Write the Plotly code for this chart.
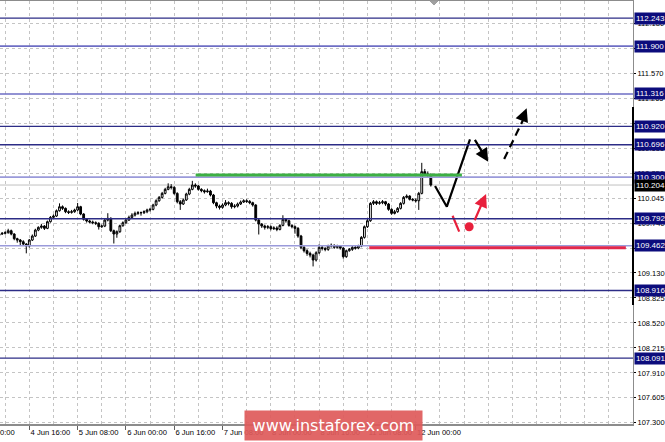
import plotly.graph_objects as go

# ---------------- data (H1 bars; x = bar index, 0 = 4 Jun 00:00) ----------------
bar_index = list(range(6, 150))
close = [109.606, 109.614, 109.622, 109.646, 109.606, 109.549, 109.532, 109.512, 109.483, 109.459,
         109.532, 109.581, 109.654, 109.687, 109.703, 109.675, 109.756, 109.809, 109.825, 109.890,
         109.939, 109.919, 109.878, 109.870, 109.878, 109.899, 109.939, 109.850, 109.785, 109.764,
         109.752, 109.744, 109.736, 109.695, 109.703, 109.776, 109.797, 109.646, 109.606, 109.634,
         109.707, 109.744, 109.776, 109.809, 109.837, 109.858, 109.866, 109.866, 109.878, 109.899,
         109.907, 109.960, 110.012, 110.053, 110.102, 110.151, 110.183, 110.175, 110.102, 110.000,
         109.972, 110.021, 110.094, 110.151, 110.204, 110.192, 110.151, 110.135, 110.122, 110.130,
         110.082, 109.988, 109.947, 109.931, 109.960, 109.988, 109.980, 109.939, 109.947, 109.972,
         109.996, 110.012, 110.004, 109.988, 109.960, 109.776, 109.727, 109.703, 109.687, 109.695,
         109.671, 109.679, 109.662, 109.711, 109.785, 109.768, 109.711, 109.695, 109.675, 109.581,
         109.443, 109.402, 109.369, 109.349, 109.288, 109.377, 109.443, 109.430, 109.418, 109.459,
         109.467, 109.443, 109.459, 109.434, 109.329, 109.402, 109.418, 109.443, 109.434, 109.459,
         109.565, 109.695, 109.768, 109.980, 110.000, 109.980, 109.988, 110.000, 109.972, 109.907,
         109.858, 109.878, 109.919, 109.980, 110.053, 110.069, 110.029, 110.021, 110.012, 110.102,
         110.367, 110.338, 110.325, 110.204]
open_ = [109.590] + close[:-1]
high = [109.625, 109.630, 109.640, 109.670, 109.660, 109.615, 109.560, 109.545, 109.530, 109.495,
        109.545, 109.600, 109.670, 109.700, 109.730, 109.715, 109.770, 109.825, 109.845, 109.905,
        109.980, 109.955, 109.930, 109.895, 109.900, 109.915, 109.985, 109.950, 109.860, 109.800,
        109.780, 109.770, 109.760, 109.750, 109.720, 109.790, 109.860, 109.810, 109.660, 109.650,
        109.720, 109.760, 109.795, 109.830, 109.860, 109.880, 109.885, 109.880, 109.895, 109.915,
        109.925, 109.975, 110.030, 110.070, 110.120, 110.170, 110.225, 110.215, 110.190, 110.115,
        110.020, 110.040, 110.110, 110.170, 110.255, 110.225, 110.205, 110.165, 110.150, 110.160,
        110.145, 110.095, 110.000, 109.965, 109.980, 110.020, 110.005, 109.995, 109.970, 109.990,
        110.015, 110.030, 110.030, 110.020, 110.000, 109.970, 109.790, 109.740, 109.720, 109.715,
        109.710, 109.700, 109.700, 109.725, 109.835, 109.800, 109.780, 109.725, 109.710, 109.690,
        109.595, 109.460, 109.420, 109.390, 109.365, 109.395, 109.480, 109.465, 109.445, 109.475,
        109.490, 109.480, 109.475, 109.470, 109.445, 109.415, 109.435, 109.460, 109.465, 109.475,
        109.580, 109.710, 109.790, 109.995, 110.020, 110.015, 110.010, 110.020, 110.010, 109.985,
        109.920, 109.900, 109.935, 109.995, 110.070, 110.090, 110.080, 110.045, 110.040, 110.120,
        110.475, 110.400, 110.370, 110.345]
low = [109.575, 109.595, 109.600, 109.610, 109.590, 109.530, 109.500, 109.470, 109.460, 109.370,
       109.440, 109.520, 109.570, 109.640, 109.670, 109.655, 109.665, 109.745, 109.795, 109.815,
       109.880, 109.900, 109.860, 109.850, 109.855, 109.865, 109.885, 109.835, 109.770, 109.745,
       109.735, 109.725, 109.715, 109.660, 109.680, 109.690, 109.760, 109.630, 109.490, 109.560,
       109.620, 109.695, 109.730, 109.765, 109.795, 109.820, 109.840, 109.830, 109.850, 109.860,
       109.880, 109.895, 109.945, 110.000, 110.040, 110.090, 110.140, 110.150, 110.085, 109.980,
       109.900, 109.960, 110.010, 110.080, 110.140, 110.170, 110.135, 110.115, 110.100, 110.110,
       110.065, 109.970, 109.920, 109.905, 109.915, 109.945, 109.955, 109.915, 109.920, 109.930,
       109.960, 109.985, 109.985, 109.970, 109.940, 109.760, 109.600, 109.680, 109.660, 109.665,
       109.650, 109.655, 109.640, 109.650, 109.700, 109.745, 109.695, 109.675, 109.610, 109.560,
       109.420, 109.380, 109.340, 109.320, 109.210, 109.270, 109.360, 109.405, 109.395, 109.400,
       109.440, 109.425, 109.430, 109.415, 109.305, 109.315, 109.390, 109.400, 109.415, 109.420,
       109.445, 109.550, 109.680, 109.755, 109.960, 109.960, 109.965, 109.970, 109.950, 109.890,
       109.840, 109.845, 109.865, 109.905, 109.965, 110.040, 110.015, 110.005, 109.990, 109.900,
       110.090, 110.320, 110.300, 110.185]

tick_index = [16, 32, 48, 64, 80, 96, 112, 128, 144]
tick_labels = ["4 Jun 16:00", "5 Jun 08:00", "6 Jun 00:00", "6 Jun 16:00", "7 Jun 08:00",
               "8 Jun 00:00", "8 Jun 16:00", "11 Jun 08:00", "12 Jun 00:00"]

levels = [112.243, 111.900, 111.316, 110.920, 110.696, 110.300, 109.792, 109.462, 108.916, 108.091]
level_colors = ["#2c2c86", "#6e6ec4", "#6e6ec4", "#2c2c86", "#2c2c86", "#9a9ada", "#2c2c86",
                "#9a9ada", "#2c2c86", "#2c2c86"]
bid_price = 110.204

green_level = 110.325
green_span = [71.1, 159.3]
red_level = 109.438
red_span = [128.6, 213.6]

# forecast path (bar index, price)
zigzag_x = [150.4, 154.3, 161.97]
zigzag_y = [110.192, 109.939, 110.762]
arrow2 = [163.3, 110.774, 168.0, 110.488]
dashed_arrow = [173.3, 110.521, 180.75, 111.140]
red_dash = [156.2, 109.829, 158.4, 109.634]
red_dot = [161.7, 109.695]
red_arrow = [163.3, 109.756, 167.3, 110.094]

# ---------------- figure ----------------
GRID = "#c4c4c4"
FONT = "Liberation Sans"

fig = go.Figure()
fig.add_trace(go.Candlestick(
    x=bar_index, open=open_, high=high, low=low, close=close,
    increasing=dict(line=dict(color="black", width=1), fillcolor="white"),
    decreasing=dict(line=dict(color="black", width=1), fillcolor="black"),
    showlegend=False, hoverinfo="skip"))

fig.add_trace(go.Scatter(x=zigzag_x, y=zigzag_y, mode="lines",
                         line=dict(color="black", width=2.2), showlegend=False, hoverinfo="skip"))
fig.add_trace(go.Scatter(x=[red_dash[0], red_dash[2]], y=[red_dash[1], red_dash[3]], mode="lines",
                         line=dict(color="#e8203c", width=2.2), showlegend=False, hoverinfo="skip"))
fig.add_trace(go.Scatter(x=[red_dot[0]], y=[red_dot[1]], mode="markers",
                         marker=dict(color="#e8203c", size=9), showlegend=False, hoverinfo="skip"))

shapes = []
for lv, col in zip(levels, level_colors):
    w = 1.6 if col != "#2c2c86" else 1.3
    shapes.append(dict(type="line", xref="paper", x0=0, x1=1, yref="y", y0=lv, y1=lv,
                       line=dict(color=col, width=w), layer="above"))
shapes.append(dict(type="line", xref="paper", x0=0, x1=1, yref="y", y0=bid_price, y1=bid_price,
                   line=dict(color="#c0c0c0", width=1), layer="below"))
shapes.append(dict(type="line", xref="x", x0=green_span[0], x1=green_span[1], yref="y",
                   y0=green_level, y1=green_level, line=dict(color="#3cb043", width=3), layer="above"))
shapes.append(dict(type="line", xref="x", x0=red_span[0], x1=red_span[1], yref="y",
                   y0=red_level, y1=red_level, line=dict(color="#e2284c", width=3), layer="above"))
shapes.append(dict(type="line", xref="x", x0=dashed_arrow[0], x1=dashed_arrow[2], yref="y",
                   y0=dashed_arrow[1], y1=dashed_arrow[3] - 0.05,
                   line=dict(color="black", width=2.2, dash="8px,5px"), layer="above"))
# price-scale marker on right axis
shapes.append(dict(type="line", xref="paper", x0=1, x1=1, yref="y", y0=108.739, y1=111.156,
                   line=dict(color="black", width=2), layer="above"))
# chart-shift triangle at top
shapes.append(dict(type="path", xref="paper", yref="paper",
                   path="M 0.6793 1 L 0.6919 1 L 0.6856 0.9905 Z",
                   fillcolor="#a0a0a0", line=dict(color="#a0a0a0", width=1)))

annotations = []
for lv in levels:
    annotations.append(dict(xref="paper", x=1, xanchor="left", xshift=1, yref="y", y=lv,
                            text=f"{lv:.3f}", showarrow=False, bgcolor="#0c0c7c",
                            font=dict(color="white", size=8, family=FONT), borderpad=1))
annotations.append(dict(xref="paper", x=1, xanchor="left", xshift=1, yref="y", y=bid_price,
                        text=f"{bid_price:.3f}", showarrow=False, bgcolor="black",
                        font=dict(color="white", size=8, family=FONT), borderpad=1))
# arrows
annotations.append(dict(x=arrow2[2], y=arrow2[3], ax=arrow2[0], ay=arrow2[1], xref="x", yref="y",
                        axref="x", ayref="y", showarrow=True, arrowhead=2, arrowsize=1.2,
                        arrowwidth=2.2, arrowcolor="black", text=""))
annotations.append(dict(x=dashed_arrow[2], y=dashed_arrow[3], ax=-4, ay=10, xref="x", yref="y",
                        showarrow=True, arrowhead=2, arrowsize=1.2, arrowwidth=2.2,
                        arrowcolor="black", text=""))
annotations.append(dict(x=red_arrow[2], y=red_arrow[3], ax=red_arrow[0], ay=red_arrow[1],
                        xref="x", yref="y", axref="x", ayref="y", showarrow=True, arrowhead=2,
                        arrowsize=1.2, arrowwidth=2.2, arrowcolor="#e8203c", text=""))
# partially visible first time label
annotations.append(dict(xref="paper", x=0.027, xanchor="right", yref="paper", y=0, yanchor="top",
                        yshift=-2, text="4 Jun 00:00", showarrow=False,
                        font=dict(size=7.6, family=FONT, color="black")))
# watermark
annotations.append(dict(xref="paper", x=0.5269, xanchor="center", yref="paper", y=-0.0035,
                        yanchor="middle", text="www.instaforex.com", showarrow=False,
                        width=177, height=29, bgcolor="rgba(222,90,90,0.92)", borderpad=0,
                        font=dict(size=16, family="DejaVu Sans", color="white")))

fig.update_layout(
    width=665, height=442,
    margin=dict(l=0, r=32, t=1, b=18, autoexpand=False),
    paper_bgcolor="white", plot_bgcolor="white",
    showlegend=False, hovermode=False, boxgap=0.15,
    shapes=shapes, annotations=annotations,
    xaxis=dict(range=[6.29, 215.97], tickmode="array", tickvals=tick_index, ticktext=tick_labels,
               ticklabelposition="outside right", tickangle=0, ticks="outside", ticklen=4,
               tickcolor="#606060",
               showgrid=True, gridcolor=GRID, griddash="3px,3px", gridwidth=1,
               minor=dict(tick0=0, dtick=8, showgrid=True, gridcolor=GRID, griddash="3px,3px"),
               showline=True, mirror=True, linecolor="#8c8c8c", linewidth=1.5,
               rangeslider=dict(visible=False), zeroline=False, automargin=False,
               tickfont=dict(size=7.6, family=FONT, color="black")),
    yaxis=dict(side="right", range=[107.286, 112.451], tick0=107.3, dtick=0.305, tickformat=".3f",
               ticks="outside", ticklen=2, tickcolor="black", automargin=False,
               showgrid=True, gridcolor=GRID, griddash="3px,3px", gridwidth=1,
               showline=True, linecolor="#8c8c8c", linewidth=1, zeroline=False,
               tickfont=dict(size=7.5, family=FONT, color="black")),
)

fig.write_html("out.html", config={"displayModeBar": False},
               post_script="document.body.style.margin='0';document.body.style.overflow='hidden';")
